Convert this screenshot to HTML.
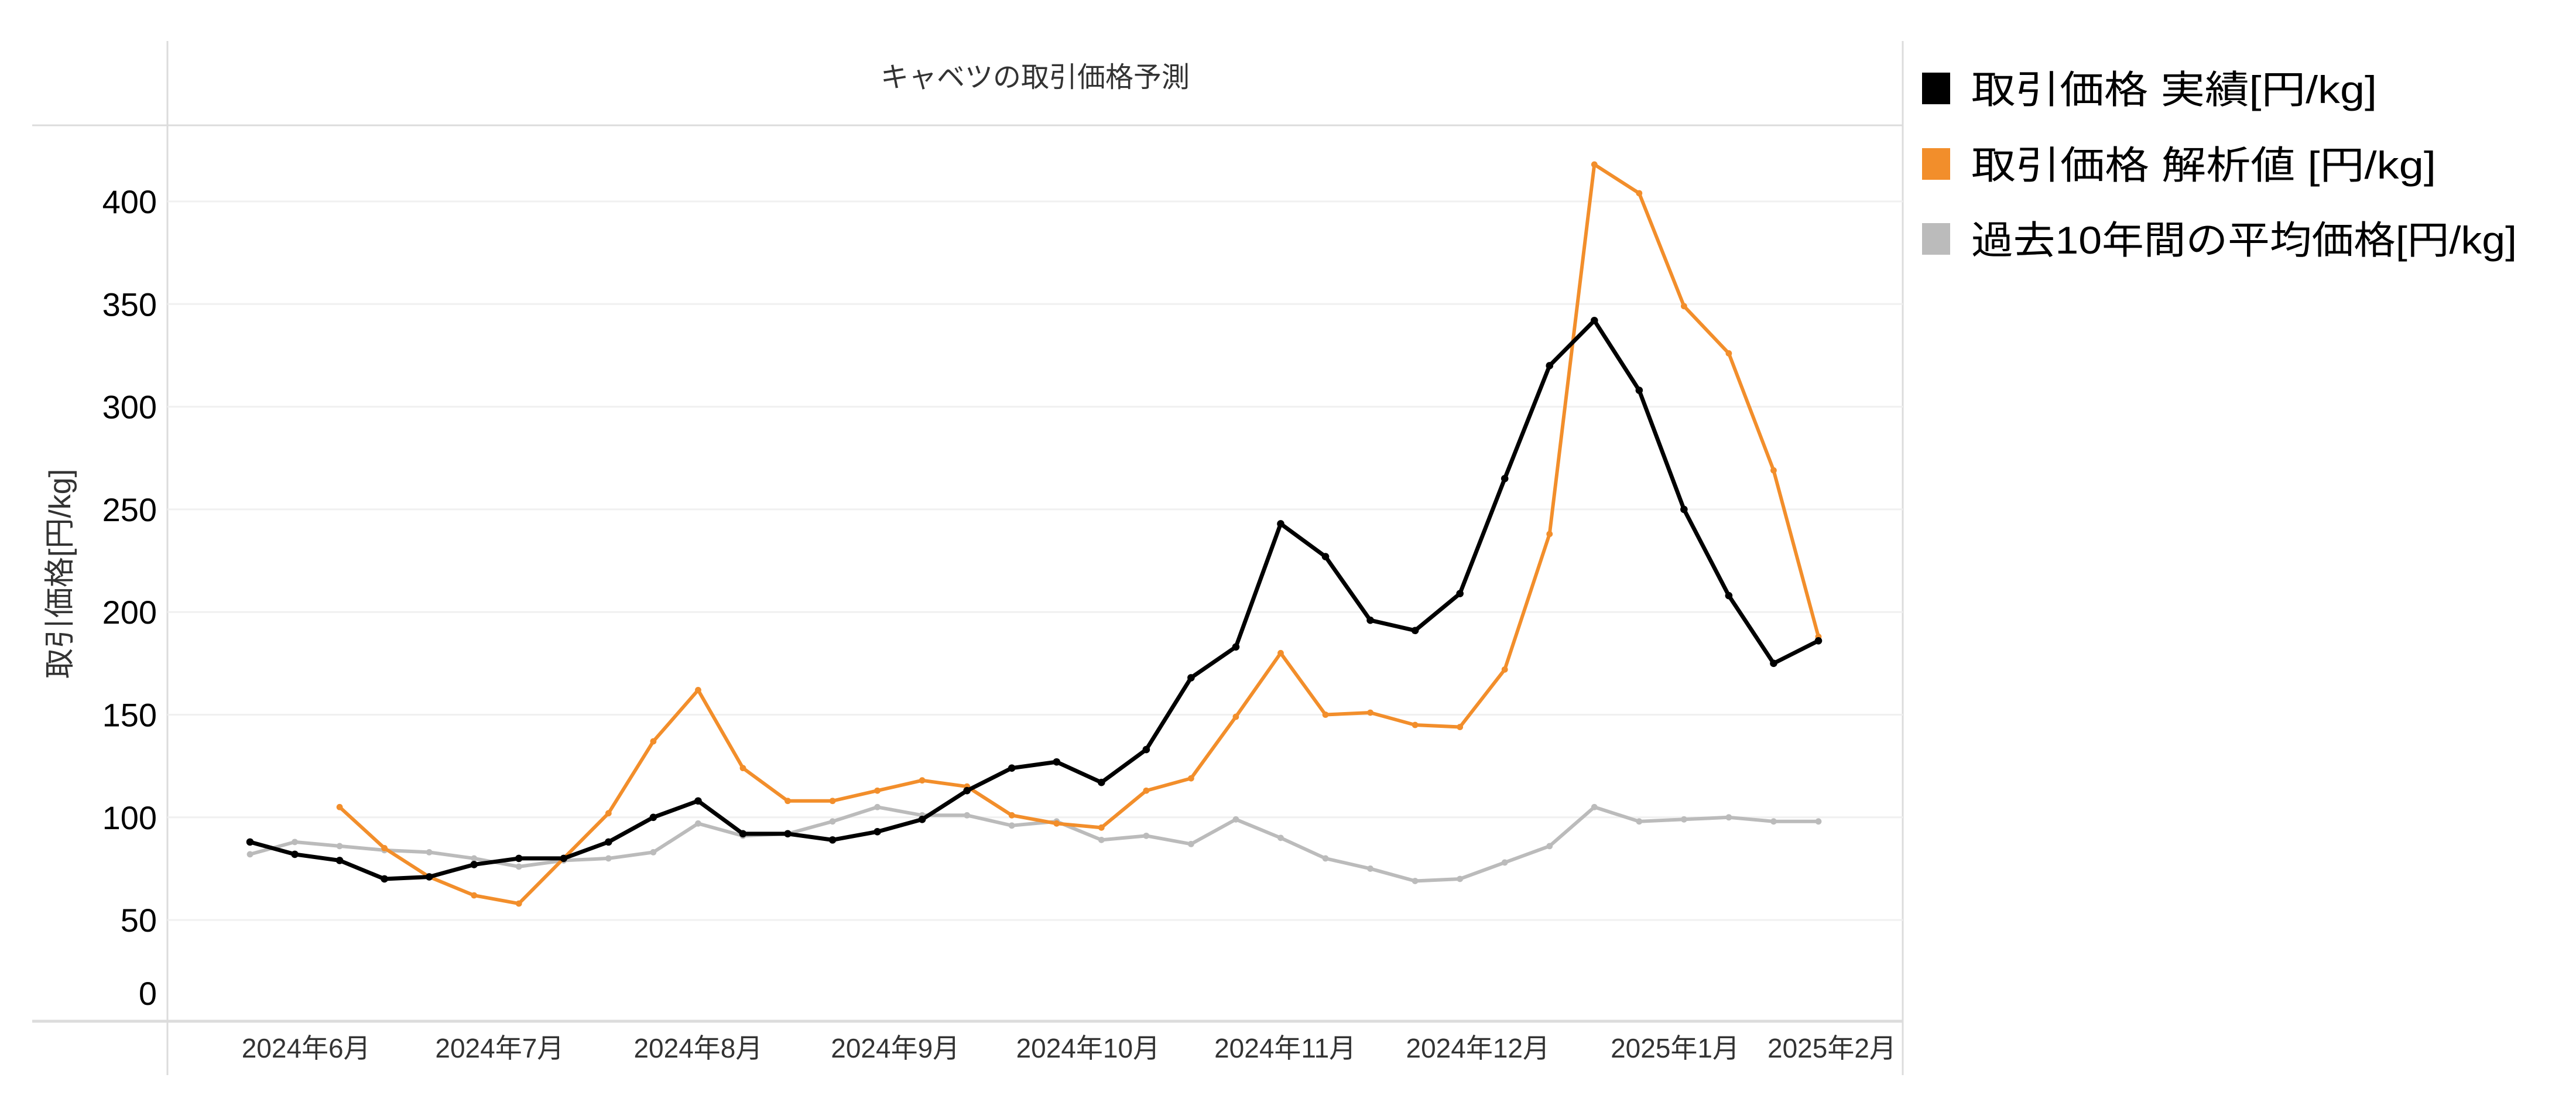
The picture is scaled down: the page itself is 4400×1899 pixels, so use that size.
<!DOCTYPE html>
<html><head><meta charset="utf-8"><style>
html,body{margin:0;padding:0;background:#fff;}
svg{display:block;font-family:"Liberation Sans","Noto Sans CJK JP",sans-serif;}
</style></head><body>
<svg id="chart" width="4400" height="1899" viewBox="0 0 4400 1899" xmlns="http://www.w3.org/2000/svg">
<g stroke="#dcdcdc" stroke-width="3">
<line x1="286" y1="70" x2="286" y2="1836"/>
<line x1="3250" y1="70" x2="3250" y2="1836"/>
<line x1="55" y1="214" x2="3250" y2="214"/>
<line x1="55" y1="1744" x2="3250" y2="1744" stroke-width="5"/>
</g>
<text x="1768" y="148" text-anchor="middle" font-size="48" fill="#333">キャベツの取引価格予測</text>
<text transform="translate(120,980) rotate(-90)" text-anchor="middle" font-size="52" fill="#333">取引価格[円/kg]</text>
<g id="grid"></g>
<g id="yticks"></g>
<g id="xticks"></g>
<g id="series"></g>
<g font-size="66" fill="#000">
<g><rect x="3283" y="124" width="48" height="54" fill="#000"/><text x="3367" y="176" textLength="693" lengthAdjust="spacingAndGlyphs">取引価格 実績[円/kg]</text></g>
<g><rect x="3283" y="253" width="48" height="54" fill="#f28e2b"/><text x="3367" y="305" textLength="794" lengthAdjust="spacingAndGlyphs">取引価格 解析値 [円/kg]</text></g>
<g><rect x="3283" y="381" width="48" height="54" fill="#bbbbbb"/><text x="3367" y="433" textLength="932" lengthAdjust="spacingAndGlyphs">過去10年間の平均価格[円/kg]</text></g>
</g>
</svg>
<script>
const actual = [88,82,79,70,71,77,80,80,88,100,108,92,92,89,93,99,113,124,127,117,133,168,183,243,227,196,191,209,265,320,342,308,250,208,175,186];
const analysis = [null,null,105,85,71,62,58,80,102,137,162,124,108,108,113,118,115,101,97,95,113,119,149,180,150,151,145,144,172,238,418,404,349,326,269,188];
const average = [82,88,86,84,83,80,76,79,80,83,97,91,92,98,105,101,101,96,98,89,91,87,99,90,80,75,69,70,78,86,105,98,99,100,98,98];
const yTicks = [50,100,150,200,250,300,350,400];
const xLabels = ["2024年6月","2024年7月","2024年8月","2024年9月","2024年10月","2024年11月","2024年12月","2025年1月","2025年2月"];
const xLabelIdx = [1.25,5.57,10.0,14.4,18.7,23.1,27.4,31.8,35.3];

const NS="http://www.w3.org/2000/svg";
function yScale(v){return 344+(400-v)*3.506;}
function xScale(i){return 427+i*(3106-427)/35;}
function mk(tag,attrs,parent){const e=document.createElementNS(NS,tag);for(const k in attrs)e.setAttribute(k,attrs[k]);parent.appendChild(e);return e;}

const grid=document.getElementById('grid');
const yt=document.getElementById('yticks');
yTicks.forEach(v=>{
  const l=mk('line',{x1:286,x2:3250,y1:yScale(v),y2:yScale(v),stroke:'#f0f0f0','stroke-width':3},grid);
  
  
  const t=mk('text',{x:268,y:yScale(v)+20,'text-anchor':'end','font-size':56,fill:'#000'},yt);
  t.textContent=v;
  
  
});
const t0=mk('text',{x:268,y:1716,'text-anchor':'end','font-size':56,fill:'#000'},yt);
t0.textContent='0';



const xt=document.getElementById('xticks');
xLabels.forEach((s,k)=>{
  const t=mk('text',{x:xScale(xLabelIdx[k]),y:1806,'text-anchor':'middle','font-size':46,fill:'#333'},xt);
  t.textContent=s;
  
  
});

const ser=document.getElementById('series');
function draw(data,color,w,name){
  const g=mk('g',{},ser);
  
  
  let d='';
  data.forEach((v,i)=>{if(v==null)return;d+=(d?'L':'M')+xScale(i)+' '+yScale(v)+' ';});
  mk('path',{d:d,fill:'none',stroke:color,'stroke-width':w,'stroke-linejoin':'round'},g);
  data.forEach((v,i)=>{if(v==null)return;
    const c=mk('circle',{cx:xScale(i),cy:yScale(v),r:w*0.9,fill:color},g);
    
    
  });
}
draw(average,'#bbbbbb',6,'series-average');
draw(analysis,'#f28e2b',6,'series-analysis');
draw(actual,'#000000',7,'series-actual');
</script>
</body></html>
